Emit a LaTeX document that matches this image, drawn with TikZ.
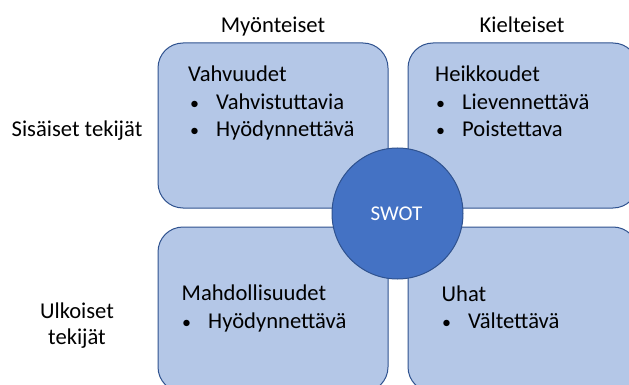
\documentclass[tikz,border=0pt]{standalone}
\usepackage{fontspec}
\setmainfont{Carlito}

\definecolor{boxfill}{HTML}{B4C7E7}
\definecolor{boxline}{HTML}{2F528F}
\definecolor{swotfill}{HTML}{4472C4}

\newcommand{\dotitem}{\makebox[26pt][l]{\fontsize{18}{20}\selectfont •}}

\begin{document}
\begin{tikzpicture}[x=1pt, y=-1pt,
        quarter/.style={rectangle, rounded corners=25pt, fill=boxfill, draw=boxline, line width=1pt,
            minimum width=230pt, minimum height=165pt, inner sep=0pt},
        txt/.style={font=\fontsize{22.6}{26}\selectfont, inner sep=0pt, anchor=base west},
        head/.style={font=\fontsize{22.6}{26}\selectfont, inner sep=0pt, anchor=base}]
        \useasboundingbox (0,0) rectangle (629,385);
        \clip (0,0) rectangle (629,385);

        % draw the four boxes
        \node[quarter] (strengths) at (273,125.5) {};
        \node[quarter] (weaknesses) at (523,125.5) {};
        \node[quarter] (chances) at (273,309.5) {};
        \node[quarter] (threats) at (523,309.5) {};

        % the circle in the middle
        \node[circle, fill=swotfill, draw=boxline, line width=1pt, minimum size=131pt, inner sep=0pt] (swot) at (397.5,213.5) {};
        \node[inner sep=0pt, anchor=base, text=white, font=\fontsize{21}{25}\selectfont] (swottext) at (396.5,220) {SWOT};

        % the texts on top and on the left
        \node[head] (positive) at (273,33) {Myönteiset};
        \node[head] (negative) at (522,33) {Kielteiset};
        \node[head] (inner) at (77,136) {Sisäiset tekijät};
        \node[head] (outer1) at (77,318) {Ulkoiset};
        \node[head] (outer2) at (77,344) {tekijät};

        % the texts in the boxes (bullet and item are kept in one node)
        \node[txt] (s0) at (188,81.5) {Vahvuudet};
        \node[txt] (s1) at (190,110) {\dotitem Vahvistuttavia};
        \node[txt] (s2) at (190,137) {\dotitem Hyödynnettävä};

        \node[txt] (w0) at (435,81.5) {Heikkoudet};
        \node[txt] (w1) at (436,110) {\dotitem Lievennettävä};
        \node[txt] (w2) at (436,137) {\dotitem Poistettava};

        \node[txt] (c0) at (181.5,300.5) {Mahdollisuudet};
        \node[txt] (c1) at (182,328) {\dotitem Hyödynnettävä};

        \node[txt] (t0) at (441.5,301.5) {Uhat};
        \node[txt] (t1) at (442,328) {\dotitem Vältettävä};

    \end{tikzpicture}
\end{document}
